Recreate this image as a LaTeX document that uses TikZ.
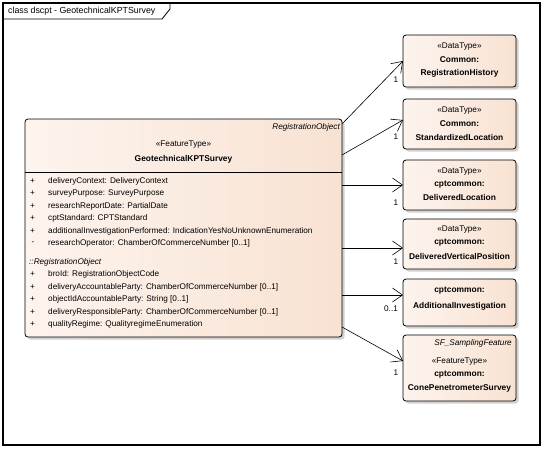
\documentclass[tikz,border=0pt]{standalone}
\usepackage{fontspec}
\setmainfont{Liberation Sans}
\usetikzlibrary{arrows.meta,shadows,calc}
\definecolor{peachL}{RGB}{253,244,238}
\definecolor{peachR}{RGB}{248,226,210}
\newcommand{\fsz}{\fontsize{8.2}{9.5}\selectfont}
\tikzset{
  umlbox/.style={draw=black, line width=0.8pt, rounded corners=3pt, inner sep=0pt, outer sep=0pt,
    left color=peachL, right color=peachR,
    drop shadow={shadow xshift=2.5pt, shadow yshift=-2.5pt, fill=black!30, opacity=0.6},
    anchor=north west},
  attr/.style={anchor=west, inner sep=0pt, font=\fsz},
  ctext/.style={anchor=center, inner sep=0pt, font=\fsz},
  btext/.style={anchor=center, inner sep=0pt, font=\fontsize{8.4}{9.5}\selectfont\bfseries},
  itext/.style={anchor=east, inner sep=0pt, font=\fsz\itshape},
  mult/.style={anchor=center, inner sep=0pt, font=\fsz},
  assoc/.style={draw=black, line width=0.6pt, -{Straight Barb[length=10pt,width=14pt,line width=0.6pt]}}
}
\begin{document}
\begin{tikzpicture}[x=1pt,y=-1pt]
\useasboundingbox (0,0) rectangle (543,448);
% frame
\draw[line width=1.1pt] (3,3) rectangle (540,445);
\draw[line width=0.8pt] (3,19) -- (162,19) -- (170,9) -- (170,3);
\node[anchor=west, inner sep=0pt, font=\fontsize{8.8}{10}\selectfont] (title) at (8,11) {class dscpt - GeotechnicalKPTSurvey};

% main class
\node[umlbox, minimum width=317pt, minimum height=218pt] (main) at (25,119) {};
\draw[line width=0.6pt] (25,172) -- (342,172);
\node[itext] (mainsup) at (340,127) {RegistrationObject};
\node[ctext] (mainst) at (183.5,145) {«FeatureType»};
\node[btext] (mainname) at (183.5,159) {GeotechnicalKPTSurvey};

\node[attr] (p1) at (30,181) {+}; \node[attr] (a1) at (48,181) {deliveryContext: DeliveryContext};
\node[attr] (p2) at (30,193.5) {+}; \node[attr] (a2) at (48,193.5) {surveyPurpose: SurveyPurpose};
\node[attr] (p3) at (30,206) {+}; \node[attr] (a3) at (48,206) {researchReportDate: PartialDate};
\node[attr] (p4) at (30,218.5) {+}; \node[attr] (a4) at (48,218.5) {cptStandard: CPTStandard};
\node[attr] (p5) at (30,231) {+}; \node[attr] (a5) at (48,231) {additionalInvestigationPerformed: IndicationYesNoUnknownEnumeration};
\node[attr] (p6) at (31.5,243.5) {-}; \node[attr] (a6) at (48,243.5) {researchOperator: ChamberOfCommerceNumber [0..1]};
\node[attr, font=\fsz\itshape] (inh) at (29,262) {::RegistrationObject};
\node[attr] (p7) at (30,274.5) {+}; \node[attr] (a7) at (48,274.5) {broId: RegistrationObjectCode};
\node[attr] (p8) at (30,287) {+}; \node[attr] (a8) at (48,287) {deliveryAccountableParty: ChamberOfCommerceNumber [0..1]};
\node[attr] (p9) at (30,299.5) {+}; \node[attr] (a9) at (48,299.5) {objectIdAccountableParty: String [0..1]};
\node[attr] (p10) at (30,312) {+}; \node[attr] (a10) at (48,312) {deliveryResponsibleParty: ChamberOfCommerceNumber [0..1]};
\node[attr] (p11) at (30,324.5) {+}; \node[attr] (a11) at (48,324.5) {qualityRegime: QualityregimeEnumeration};

% right boxes
\node[umlbox, minimum width=113pt, minimum height=52pt] (b1) at (403,35) {};
\node[ctext] (b1s) at (459.5,47) {«DataType»};
\node[btext] (b1a) at (459.5,60) {Common:};
\node[btext] (b1b) at (459.5,73) {RegistrationHistory};

\node[umlbox, minimum width=113pt, minimum height=50pt] (b2) at (403,99) {};
\node[ctext] (b2s) at (459.5,111) {«DataType»};
\node[btext] (b2a) at (459.5,124) {Common:};
\node[btext] (b2b) at (459.5,137) {StandardizedLocation};

\node[umlbox, minimum width=113pt, minimum height=50pt] (b3) at (403,160) {};
\node[ctext] (b3s) at (459.5,172) {«DataType»};
\node[btext] (b3a) at (459.5,184.5) {cptcommon:};
\node[btext] (b3b) at (459.5,197) {DeliveredLocation};

\node[umlbox, minimum width=113pt, minimum height=50pt] (b4) at (403,219) {};
\node[ctext] (b4s) at (459.5,230) {«DataType»};
\node[btext] (b4a) at (459.5,243) {cptcommon:};
\node[btext] (b4b) at (459.5,256) {DeliveredVerticalPosition};

\node[umlbox, minimum width=113pt, minimum height=47pt] (b5) at (403,279) {};
\node[btext] (b5a) at (459.5,290.5) {cptcommon:};
\node[btext] (b5b) at (459.5,306) {AdditionalInvestigation};

\node[umlbox, minimum width=113pt, minimum height=66pt] (b6) at (403,335) {};
\node[itext] (b6sup) at (512,343) {SF\_SamplingFeature};
\node[ctext] (b6s) at (459.5,362) {«FeatureType»};
\node[btext] (b6a) at (459.5,375) {cptcommon:};
\node[btext] (b6b) at (459.5,388) {ConePenetrometerSurvey};

% connectors
\coordinate (s1) at (342,124);
\coordinate (s2) at (342,155);
\coordinate (s6) at (342,327);
\coordinate (e2) at (403,120);
\coordinate (e4) at (403,248);
\coordinate (e5) at (403,295);
\coordinate (e6) at (403,361);
\draw[assoc] (s1) -- (b1.west);
\draw[assoc] (s2) -- (e2);
\draw[assoc] (main.east |- b3.west) -- (b3.west);
\draw[assoc] (main.east |- e4) -- (e4);
\draw[assoc] (main.east |- e5) -- (e5);
\draw[assoc] (s6) -- (e6);

\node[mult] (m1) at (396,80) {1};
\node[mult] (m2) at (396,137) {1};
\node[mult] (m3) at (396,203) {1};
\node[mult] (m4) at (396,262) {1};
\node[mult] (m5) at (391,309) {0..1};
\node[mult] (m6) at (396,373) {1};
\end{tikzpicture}
\end{document}
